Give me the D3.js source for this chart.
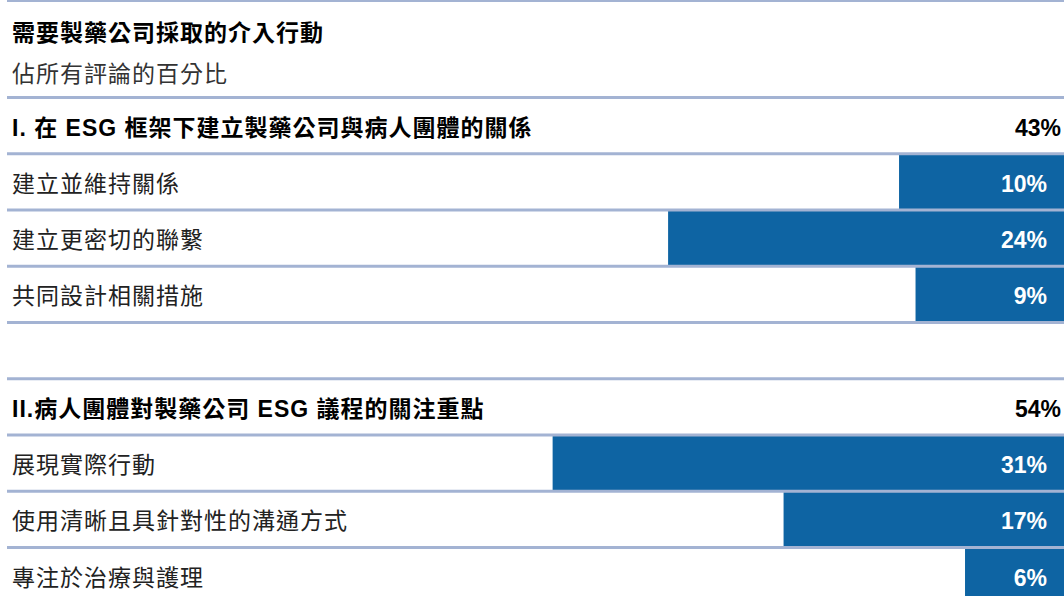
<!DOCTYPE html>
<html>
<head>
<meta charset="utf-8">
<script src="https://cdn.jsdelivr.net/npm/d3@7"></script>
<style>
  html, body { margin: 0; padding: 0; background: #ffffff; }
  svg { display: block; }
  text { font-family: "Liberation Sans", Arial, "Noto Sans CJK TC", sans-serif; }
</style>
</head>
<body>
<svg id="chart" width="1064" height="596"></svg>
<script>
// ---- data ----
const title = "需要製藥公司採取的介入行動";
const subtitle = "佔所有評論的百分比";
const sectionLabels = ["I. 在 ESG 框架下建立製藥公司與病人團體的關係", "II.病人團體對製藥公司 ESG 議程的關注重點"];
const sectionTotals = [43, 54];
const items1 = ["建立並維持關係", "建立更密切的聯繫", "共同設計相關措施"];
const values1 = [10, 24, 9];
const items2 = ["展現實際行動", "使用清晰且具針對性的溝通方式", "專注於治療與護理"];
const values2 = [31, 17, 6];

// ---- build rows ----
const rows = [];
rows.push({id: "h1", type: "header", label: sectionLabels[0], value: sectionTotals[0]});
items1.forEach((d, i) => rows.push({id: "a" + i, type: "item", label: d, value: values1[i]}));
rows.push({id: "gap", type: "gap"});
rows.push({id: "h2", type: "header", label: sectionLabels[1], value: sectionTotals[1]});
items2.forEach((d, i) => rows.push({id: "b" + i, type: "item", label: d, value: values2[i]}));

const W = 1064;
const svg = d3.select("#chart");
const lineColor = "#A3B3D3";
const barColor = "#0E64A3";

const y = d3.scaleBand()
  .domain(rows.map(r => r.id))
  .range([97.5, 97.5 + rows.length * 56.25])
  .paddingInner(0).paddingOuter(0);

const x = d3.scaleLinear().domain([0, 64.5]).range([0, W]);

// title
svg.append("line").attr("x1", 7).attr("x2", W).attr("y1", 0.5).attr("y2", 0.5)
  .attr("stroke", lineColor).attr("stroke-width", 3);
svg.append("text").attr("x", 12).attr("y", 31)
  .attr("dominant-baseline", "central")
  .style("font-family", "'Noto Sans CJK TC', sans-serif")
  .style("font-size", "23px").style("font-weight", "bold").style("letter-spacing", "1px")
  .attr("fill", "#000").text(title);
svg.append("text").attr("x", 12).attr("y", 72)
  .attr("dominant-baseline", "central")
  .style("font-family", "'Noto Sans CJK TC', sans-serif")
  .style("font-size", "23px").style("letter-spacing", "1px")
  .attr("fill", "#333").text(subtitle);

// bars
const items = rows.filter(r => r.type === "item");
svg.selectAll("rect.bar").data(items).join("rect")
  .attr("class", "bar")
  .attr("x", d => W - x(d.value))
  .attr("width", d => x(d.value))
  .attr("y", d => y(d.id))
  .attr("height", y.bandwidth())
  .attr("fill", barColor);

// separator lines at the top of each row
const lineYs = rows.map(r => y(r.id));
svg.selectAll("line.sep").data(lineYs).join("line")
  .attr("class", "sep")
  .attr("x1", 7).attr("x2", W)
  .attr("y1", d => d).attr("y2", d => d)
  .attr("stroke", lineColor).attr("stroke-width", 3);

// labels
const labelRows = rows.filter(r => r.type !== "gap");
svg.selectAll("text.lab").data(labelRows).join("text")
  .attr("class", "lab")
  .attr("x", 12)
  .attr("y", d => y(d.id) + y.bandwidth() / 2 + 2)
  .attr("dominant-baseline", "central")
  .style("font-size", "23px")
  .style("letter-spacing", "1px")
  .style("font-weight", d => d.type === "header" ? "bold" : "normal")
  .attr("fill", d => d.type === "header" ? "#000" : "#222")
  .text(d => d.label);

// values
svg.selectAll("text.val").data(labelRows).join("text")
  .attr("class", "val")
  .attr("x", d => d.type === "header" ? 1061 : 1047)
  .attr("y", d => y(d.id) + y.bandwidth() / 2 + 2)
  .attr("dominant-baseline", "central")
  .attr("text-anchor", "end")
  .style("font-family", "'Liberation Sans', Arial, sans-serif")
  .style("font-size", "23px")
  .style("font-weight", "bold")
  .attr("fill", d => d.type === "header" ? "#000" : "#fff")
  .text(d => d.value + "%");
</script>
</body>
</html>
